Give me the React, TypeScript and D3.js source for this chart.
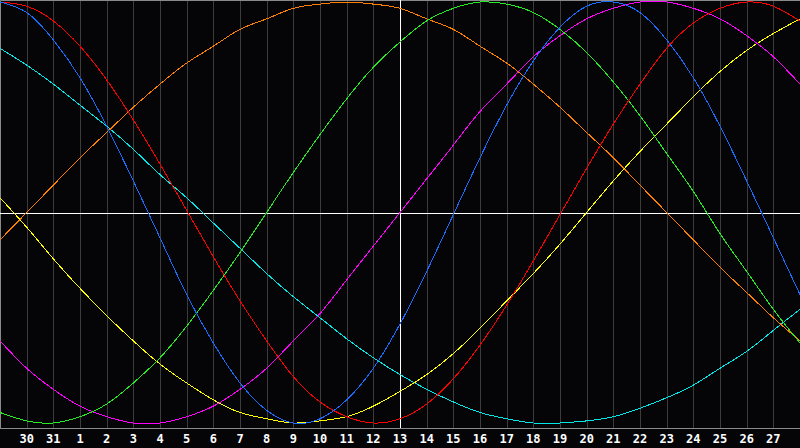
import { useRef, useEffect } from "react";
import * as d3 from "d3";

// day labels under each grid line (index 1..29), first column is day 29
const dayLabels = [
  "30", "31", "1", "2", "3", "4", "5", "6", "7", "8", "9", "10", "11", "12",
  "13", "14", "15", "16", "17", "18", "19", "20", "21", "22", "23", "24",
  "25", "26", "27",
];
const todayIndex = 15;

// values read per day, -100..100
const physical = [
  100, 95, 82, 64, 41, 15, -12, -39, -62, -81, -94, -100, -98, -89, -74, -53,
  -28, -1, 26, 51, 72, 88, 98, 100, 95, 82, 64, 41, 15, -12, -39,
];
const emotional = [
  100, 98, 91, 79, 63, 44, 23, 1, -21, -42, -61, -78, -90, -97, -100, -98,
  -91, -79, -63, -44, -23, -1, 21, 42, 61, 78, 90, 97, 100, 98, 91,
];
const intellectual = [
  -95, -99, -100, -97, -91, -81, -69, -54, -37, -19, 0, 19, 37, 54, 69, 81,
  91, 97, 100, 99, 95, 87, 76, 62, 46, 28, 10, -10, -28, -46, -62,
];
const intuitive = [
  -61, -74, -84, -92, -97, -100, -100, -97, -92, -84, -74, -61, -48, -32, -16,
  0, 16, 32, 48, 61, 74, 84, 92, 97, 100, 100, 97, 92, 84, 74, 61,
];
const aesthetic = [
  7, -7, -22, -36, -49, -61, -72, -81, -89, -95, -98, -100, -99, -97, -92, -85,
  -77, -67, -55, -42, -29, -15, 0, 15, 29, 42, 55, 67, 77, 85, 92,
];
const awareness = [
  -13, 0, 13, 26, 38, 50, 61, 71, 79, 87, 92, 97, 99, 100, 99, 97, 92, 87, 79,
  71, 61, 50, 38, 26, 13, 0, -13, -26, -38, -50, -61,
];
const spiritual = [
  78, 70, 61, 51, 41, 30, 18, 7, -5, -17, -29, -40, -50, -60, -69, -77, -84,
  -90, -95, -98, -100, -100, -99, -97, -93, -88, -82, -74, -66, -56, -46,
];

const series = [
  { name: "spiritual", values: spiritual, color: "#00e8e8" },
  { name: "awareness", values: awareness, color: "#ff8000" },
  { name: "aesthetic", values: aesthetic, color: "#ffff00" },
  { name: "intuitive", values: intuitive, color: "#ff00ff" },
  { name: "intellectual", values: intellectual, color: "#22ee22" },
  { name: "emotional", values: emotional, color: "#ff0000" },
  { name: "physical", values: physical, color: "#1a6cff" },
];

function Biorhythm() {
  const ref = useRef<SVGSVGElement | null>(null);
  const width = 800;
  const height = 448;

  useEffect(() => {
    if (!ref.current) return;
    const plotBottom = 428;

    const svg = d3.select(ref.current).html("");

    const x = d3.scaleLinear().domain([0, 30]).range([0, width]);
    const y = d3.scaleLinear().domain([-100, 100]).range([423, 2]);

    svg
      .append("rect")
      .attr("width", width)
      .attr("height", height)
      .attr("fill", "#050508");

    // day grid
    svg
      .append("g")
      .selectAll("line")
      .data(d3.range(1, 30))
      .enter()
      .append("line")
      .attr("x1", (d) => Math.round(x(d)) + 0.5)
      .attr("x2", (d) => Math.round(x(d)) + 0.5)
      .attr("y1", 0)
      .attr("y2", plotBottom)
      .attr("stroke", "#3c3c3c")
      .attr("stroke-width", 1);

    // frame
    svg
      .append("path")
      .attr("d", `M0.5,${plotBottom}V0.5H${width}`)
      .attr("fill", "none")
      .attr("stroke", "#8a8a8a");
    svg
      .append("line")
      .attr("x1", 0)
      .attr("x2", width)
      .attr("y1", plotBottom + 0.5)
      .attr("y2", plotBottom + 0.5)
      .attr("stroke", "#8a8a8a");

    // zero line and today
    svg
      .append("line")
      .attr("x1", 0)
      .attr("x2", width)
      .attr("y1", Math.round(y(0)) + 0.5)
      .attr("y2", Math.round(y(0)) + 0.5)
      .attr("stroke", "#ffffff");
    svg
      .append("line")
      .attr("x1", Math.round(x(todayIndex)) + 0.5)
      .attr("x2", Math.round(x(todayIndex)) + 0.5)
      .attr("y1", 0)
      .attr("y2", plotBottom)
      .attr("stroke", "#ffffff");

    const line = d3
      .line<number>()
      .curve(d3.curveNatural)
      .x((d, i) => x(i))
      .y((d) => y(d));

    series.forEach((s) => {
      svg
        .append("path")
        .datum(s.values)
        .attr("fill", "none")
        .attr("stroke", s.color)
        .attr("stroke-width", 1)
        .attr("shape-rendering", "crispEdges")
        .attr("d", line as any);
    });

    // labels
    svg
      .append("g")
      .selectAll("text")
      .data(dayLabels)
      .enter()
      .append("text")
      .attr("x", (d, i) => x(i + 1))
      .attr("y", 443)
      .attr("text-anchor", "middle")
      .style("font-family", "'DejaVu Sans Mono', monospace")
      .style("font-weight", "bold")
      .style("font-size", "12px")
      .attr("fill", "#ffffff")
      .text((d) => d);
  }, []);

  return <svg ref={ref} width={width} height={height} style={{ display: "block" }}></svg>;
}

export default function App() {
  return (
    <div style={{ position: "fixed", left: 0, top: 0, width: 800, height: 448, background: "#000" }}>
      <Biorhythm />
    </div>
  );
}
